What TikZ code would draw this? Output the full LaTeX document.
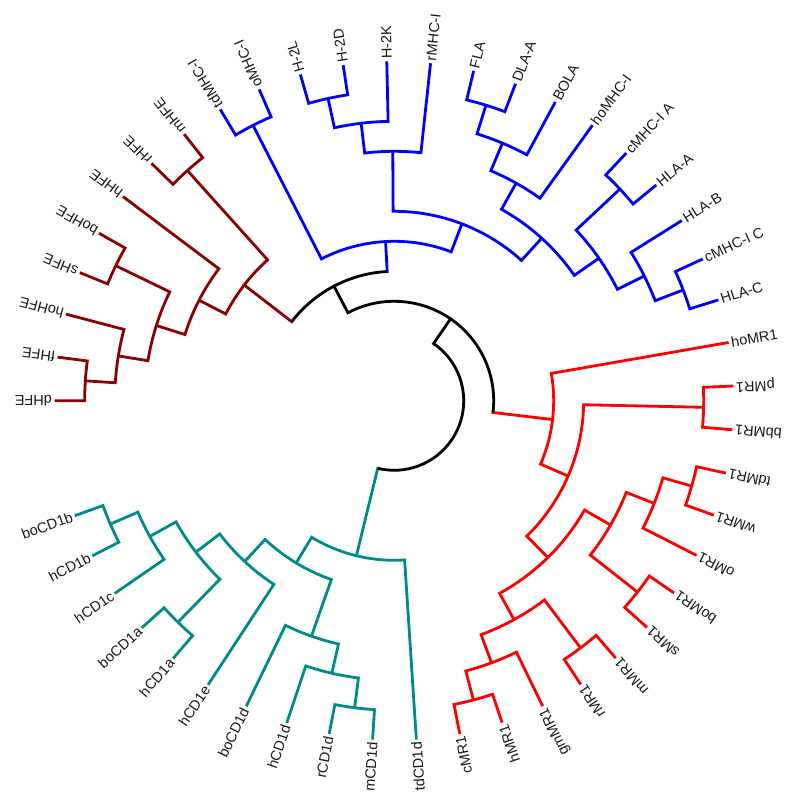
\documentclass[tikz,border=0pt]{standalone}
\usepackage{fontspec}
\setmainfont{Liberation Sans}
\definecolor{hfe}{RGB}{139,0,0}
\definecolor{mhc}{RGB}{0,0,255}
\definecolor{mrone}{RGB}{255,0,0}
\definecolor{cdone}{RGB}{0,139,139}
% tip: name, index, label text
\newcommand\tipnode[3]{%
  \expandafter\xdef\csname np#1\endcsname{#2}%
  \coordinate (#1) at ({180-7.396*#2}:339.5);
  \pgfmathsetmacro\tang{180-7.396*#2}%
  \pgfmathsetmacro\tangb{\tang+180}%
  \ifnum#2<24
    \node[lab, anchor=west, rotate=\tang] (#1-l) at (\tang:339.5) {#3};
  \else
    \node[lab, anchor=east, rotate=\tangb] (#1-l) at (\tang:339.5) {#3};
  \fi}
% internal node: name, child1, child2, level, colour
\newcommand\innode[5]{%
  \pgfmathsetmacro\tmpp{(\csname np#2\endcsname+\csname np#3\endcsname)/2}%
  \expandafter\xdef\csname np#1\endcsname{\tmpp}%
  \pgfmathsetmacro\aA{180-7.396*\csname np#2\endcsname}%
  \pgfmathsetmacro\aB{180-7.396*\csname np#3\endcsname}%
  \pgfmathsetmacro\aP{180-7.396*\tmpp}%
  \pgfmathsetmacro\rP{339.5-30*#4}%
  \coordinate (#1) at (\aP:\rP);
  \draw[edge,#5] (#2) -- (\aA:\rP) arc[start angle=\aA, end angle=\aB, radius=\rP] -- (#3);}
% black backbone node: name, child1, child2, level, colour1, colour2
\newcommand\bnode[6]{%
  \pgfmathsetmacro\tmpp{(\csname np#2\endcsname+\csname np#3\endcsname)/2}%
  \expandafter\xdef\csname np#1\endcsname{\tmpp}%
  \pgfmathsetmacro\aA{180-7.396*\csname np#2\endcsname}%
  \pgfmathsetmacro\aB{180-7.396*\csname np#3\endcsname}%
  \pgfmathsetmacro\aP{180-7.396*\tmpp}%
  \pgfmathsetmacro\rP{339.5-30*#4}%
  \coordinate (#1) at (\aP:\rP);
  \draw[edge,#5,line cap=rect] (#2) -- (\aA:\rP);
  \draw[edge,#6,line cap=rect] (#3) -- (\aB:\rP);
  \draw[edge,black] (\aA:\rP) arc[start angle=\aA, end angle=\aB, radius=\rP];}
\begin{document}
\begin{tikzpicture}[x=1pt,y=1pt,
  lab/.style={font=\fontsize{14.5}{17}\selectfont, inner sep=2.5pt, text=black!90},
  edge/.style={line width=2.8pt, line join=miter, line cap=butt}]
\useasboundingbox (-394.2,-407.2) rectangle (405.8,400.8);
\fill[white] (-394.2,-407.2) rectangle (405.8,400.8);
% tips
\tipnode{dHFE}{0}{dHFE}
\tipnode{fHFE}{1}{fHFE}
\tipnode{hoHFE}{2}{hoHFE}
\tipnode{sHFE}{3}{sHFE}
\tipnode{boHFE}{4}{boHFE}
\tipnode{hHFE}{5}{hHFE}
\tipnode{rHFE}{6}{rHFE}
\tipnode{mHFE}{7}{mHFE}
\tipnode{tdMHC}{8}{tdMHC-I}
\tipnode{oMHC}{9}{oMHC-I}
\tipnode{HtwoL}{10}{H-2L}
\tipnode{HtwoD}{11}{H-2D}
\tipnode{HtwoK}{12}{H-2K}
\tipnode{rMHC}{13}{rMHC-I}
\tipnode{FLA}{14}{FLA}
\tipnode{DLA}{15}{DLA-A}
\tipnode{BOLA}{16}{BOLA}
\tipnode{hoMHC}{17}{hoMHC-I}
\tipnode{cMHCA}{18}{cMHC-I A}
\tipnode{HLAA}{19}{HLA-A}
\tipnode{HLAB}{20}{HLA-B}
\tipnode{cMHCC}{21}{cMHC-I C}
\tipnode{HLAC}{22}{HLA-C}
\tipnode{hoMR}{23}{hoMR1}
\tipnode{pMR}{24}{pMR1}
\tipnode{bbMR}{25}{bbMR1}
\tipnode{tdMR}{26}{tdMR1}
\tipnode{wMR}{27}{wMR1}
\tipnode{oMR}{28}{oMR1}
\tipnode{boMR}{29}{boMR1}
\tipnode{sMR}{30}{sMR1}
\tipnode{mMR}{31}{mMR1}
\tipnode{rMR}{32}{rMR1}
\tipnode{gmMR}{33}{gmMR1}
\tipnode{hMR}{34}{hMR1}
\tipnode{cMR}{35}{cMR1}
\tipnode{tdCD}{36}{tdCD1d}
\tipnode{mCD}{37}{mCD1d}
\tipnode{rCD}{38}{rCD1d}
\tipnode{hCDd}{39}{hCD1d}
\tipnode{boCDd}{40}{boCD1d}
\tipnode{hCDe}{41}{hCD1e}
\tipnode{hCDa}{42}{hCD1a}
\tipnode{boCDa}{43}{boCD1a}
\tipnode{hCDc}{44}{hCD1c}
\tipnode{hCDb}{45}{hCD1b}
\tipnode{boCDb}{46}{boCD1b}
% HFE clade
\innode{bfd}{dHFE}{fHFE}{1}{hfe}
\innode{bbf}{hoHFE}{bfd}{2}{hfe}
\innode{bsb}{sHFE}{boHFE}{1}{hfe}
\innode{bbt}{bbf}{bsb}{3}{hfe}
\innode{bbs}{bbt}{hHFE}{4}{hfe}
\innode{brm}{rHFE}{mHFE}{1}{hfe}
\innode{bbz}{bbs}{brm}{5}{hfe}
% MHC-I clade
\innode{lto}{tdMHC}{oMHC}{1}{mhc}
\innode{lLD}{HtwoL}{HtwoD}{1}{mhc}
\innode{lHt}{lLD}{HtwoK}{2}{mhc}
\innode{lmr}{lHt}{rMHC}{3}{mhc}
\innode{lf}{FLA}{DLA}{1}{mhc}
\innode{le}{lf}{BOLA}{2}{mhc}
\innode{ld}{le}{hoMHC}{3}{mhc}
\innode{lh}{cMHCA}{HLAA}{1}{mhc}
\innode{lj}{cMHCC}{HLAC}{1}{mhc}
\innode{li}{HLAB}{lj}{2}{mhc}
\innode{lg}{lh}{li}{3}{mhc}
\innode{lc}{ld}{lg}{4}{mhc}
\innode{lb}{lmr}{lc}{5}{mhc}
\innode{lz}{lto}{lb}{6}{mhc}
% MR1 clade
\innode{rpb}{pMR}{bbMR}{1}{mrone}
\innode{rtw}{tdMR}{wMR}{1}{mrone}
\innode{rf}{rtw}{oMR}{2}{mrone}
\innode{rbs}{boMR}{sMR}{1}{mrone}
\innode{rt}{rf}{rbs}{3}{mrone}
\innode{rmr}{mMR}{rMR}{1}{mrone}
\innode{rch}{hMR}{cMR}{1}{mrone}
\innode{rn}{gmMR}{rch}{2}{mrone}
\innode{rs}{rmr}{rn}{3}{mrone}
\innode{rw}{rt}{rs}{4}{mrone}
\innode{ro}{rpb}{rw}{5}{mrone}
\innode{rz}{hoMR}{ro}{6}{mrone}
% CD1 clade
\innode{trm}{mCD}{rCD}{1}{cdone}
\innode{tt}{trm}{hCDd}{2}{cdone}
\innode{tw}{tt}{boCDd}{3}{cdone}
\innode{ts}{hCDa}{boCDa}{1}{cdone}
\innode{tn}{hCDb}{boCDb}{1}{cdone}
\innode{te}{hCDc}{tn}{2}{cdone}
\innode{tx}{ts}{te}{3}{cdone}
\innode{tf}{hCDe}{tx}{4}{cdone}
\innode{to}{tw}{tf}{5}{cdone}
\innode{tz}{tdCD}{to}{6}{cdone}
% backbone
\bnode{nz}{bbz}{lz}{7}{hfe}{mhc}
\bnode{no}{nz}{rz}{8}{black}{mrone}
\bnode{root}{no}{tz}{9}{black}{cdone}
\end{tikzpicture}
\end{document}
